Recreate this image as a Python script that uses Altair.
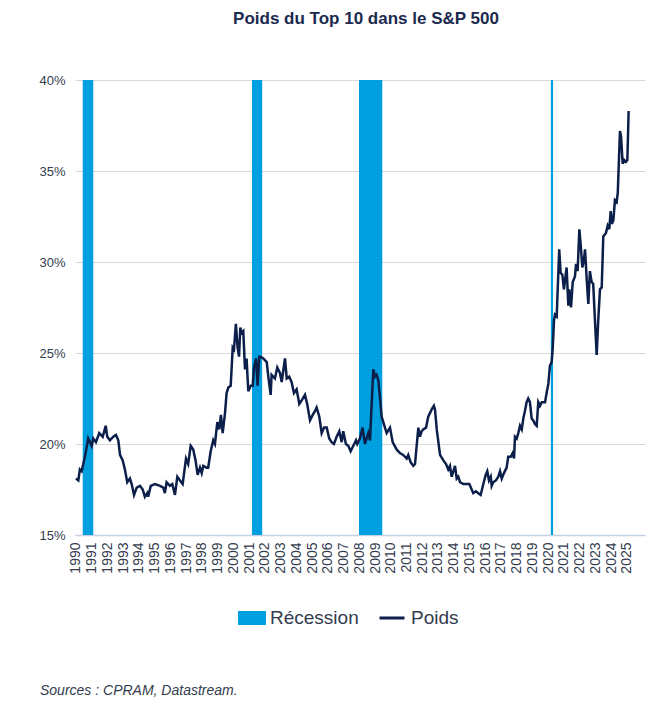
import altair as alt
import pandas as pd

title_text = "Poids du Top 10 dans le S&P 500"
source_text = "Sources : CPRAM, Datastream."
recession_label = "Récession"
line_label = "Poids"
year_ticks = list(range(1990, 2026))
y_ticks = [15, 20, 25, 30, 35, 40]

dates = [
    1990.00, 1990.15, 1990.25, 1990.36, 1990.57, 1990.78, 1991.00, 1991.10, 1991.27, 1991.48,
    1991.70, 1991.89, 1991.99, 1992.16, 1992.37, 1992.54, 1992.69, 1992.80, 1992.97, 1993.11,
    1993.26, 1993.43, 1993.54, 1993.69, 1993.86, 1994.07, 1994.24, 1994.38, 1994.53, 1994.59,
    1994.75, 1995.02, 1995.34, 1995.55, 1995.65, 1995.76, 1995.97, 1996.12, 1996.29, 1996.44,
    1996.61, 1996.78, 1996.99, 1997.13, 1997.29, 1997.45, 1997.60, 1997.73, 1997.88, 1997.99,
    1998.09, 1998.30, 1998.40, 1998.56, 1998.72, 1998.83, 1998.98, 1999.10, 1999.21, 1999.32,
    1999.47, 1999.57, 1999.68, 1999.83, 1999.96, 2000.04, 2000.16, 2000.27, 2000.36, 2000.44,
    2000.53, 2000.63, 2000.74, 2000.84, 2000.95, 2001.10, 2001.23, 2001.31, 2001.44, 2001.54,
    2001.65, 2001.73, 2001.90, 2002.12, 2002.22, 2002.37, 2002.43, 2002.64, 2002.79, 2002.96,
    2003.07, 2003.28, 2003.39, 2003.55, 2003.70, 2003.85, 2004.02, 2004.19, 2004.34, 2004.55,
    2004.69, 2004.87, 2005.04, 2005.18, 2005.29, 2005.46, 2005.61, 2005.76, 2005.93, 2006.09,
    2006.24, 2006.39, 2006.56, 2006.73, 2006.88, 2006.98, 2007.15, 2007.30, 2007.45, 2007.62,
    2007.79, 2007.87, 2008.04, 2008.21, 2008.36, 2008.57, 2008.68, 2008.89, 2009.00, 2009.10,
    2009.21, 2009.31, 2009.42, 2009.63, 2009.74, 2009.95, 2010.12, 2010.37, 2010.58, 2010.79,
    2011.01, 2011.11, 2011.26, 2011.43, 2011.54, 2011.75, 2011.85, 2011.96, 2012.06, 2012.24,
    2012.38, 2012.60, 2012.74, 2012.81, 2012.92, 2013.13, 2013.34, 2013.51, 2013.65, 2013.76,
    2013.87, 2014.08, 2014.19, 2014.29, 2014.40, 2014.61, 2014.82, 2014.99, 2015.14, 2015.24,
    2015.41, 2015.56, 2015.71, 2015.88, 2016.03, 2016.13, 2016.24, 2016.35, 2016.41, 2016.51,
    2016.68, 2016.83, 2016.94, 2017.05, 2017.19, 2017.36, 2017.46, 2017.62, 2017.74, 2017.83,
    2017.89, 2018.00, 2018.10, 2018.21, 2018.32, 2018.42, 2018.52, 2018.63, 2018.73, 2018.84,
    2018.95, 2019.05, 2019.16, 2019.27, 2019.37, 2019.48, 2019.59, 2019.69, 2019.80, 2019.90,
    2020.01, 2020.11, 2020.22, 2020.29, 2020.37, 2020.43, 2020.54, 2020.70, 2020.79, 2020.90,
    2021.00, 2021.17, 2021.28, 2021.34, 2021.45, 2021.56, 2021.70, 2021.77, 2021.87, 2021.98,
    2022.06, 2022.17, 2022.27, 2022.34, 2022.45, 2022.55, 2022.65, 2022.76, 2022.86, 2022.97,
    2023.08, 2023.18, 2023.29, 2023.40, 2023.50, 2023.67, 2023.78, 2023.88, 2023.97, 2024.05,
    2024.14, 2024.24, 2024.35, 2024.42, 2024.56, 2024.63, 2024.73, 2024.83, 2024.94, 2025.03,
    2025.11,
]

poids = [
    18.1, 18.0, 18.6, 18.5, 19.3, 20.3, 19.9, 20.3, 20.1, 20.6,
    20.4, 21.0, 20.4, 20.2, 20.4, 20.5, 20.2, 19.4, 19.1, 18.6,
    17.9, 18.1, 17.8, 17.2, 17.6, 17.7, 17.5, 17.1, 17.3, 17.1,
    17.7, 17.8, 17.7, 17.6, 17.3, 17.9, 17.7, 17.8, 17.2, 18.2,
    18.0, 17.8, 19.2, 18.9, 19.9, 19.7, 19.1, 18.3, 18.7, 18.4,
    18.8, 18.7, 18.7, 19.6, 20.2, 20.0, 21.2, 20.8, 21.6, 20.6,
    21.7, 22.8, 23.1, 23.2, 25.3, 25.2, 26.6, 25.3, 24.8, 26.4,
    26.1, 26.2, 24.1, 24.7, 22.9, 23.2, 23.2, 24.2, 24.7, 23.2,
    24.8, 24.8, 24.7, 24.5, 23.7, 22.7, 23.8, 23.6, 24.2, 23.9,
    23.4, 24.7, 23.6, 23.7, 23.4, 22.8, 23.0, 22.2, 22.4, 22.7,
    22.2, 21.3, 21.6, 21.8, 22.0, 21.5, 20.6, 20.9, 20.9, 20.3,
    20.1, 20.0, 20.4, 20.7, 20.1, 20.7, 20.0, 19.9, 19.6, 19.9,
    20.2, 20.0, 20.3, 20.9, 20.0, 20.6, 20.2, 24.1, 23.7, 23.8,
    23.5, 22.6, 21.5, 20.9, 20.6, 20.9, 20.1, 19.7, 19.5, 19.4,
    19.2, 19.4, 19.0, 18.8, 18.9, 20.9, 20.4, 20.7, 20.8, 20.9,
    21.5, 21.9, 22.1, 21.9, 20.8, 19.4, 19.1, 18.9, 18.6, 18.8,
    18.2, 18.8, 18.1, 18.2, 17.9, 17.8, 17.8, 17.8, 17.5, 17.3,
    17.4, 17.3, 17.2, 17.8, 18.3, 18.5, 18.0, 18.2, 17.7, 17.9,
    18.0, 18.2, 18.5, 18.1, 18.4, 18.7, 19.3, 19.3, 19.5, 19.2,
    20.4, 20.3, 20.6, 21.0, 20.8, 21.4, 21.8, 22.3, 22.5, 22.3,
    21.4, 21.3, 21.1, 21.0, 22.3, 22.1, 22.3, 22.3, 22.3, 22.8,
    23.3, 24.3, 24.5, 25.3, 26.8, 27.1, 27.0, 30.7, 29.4, 29.3,
    28.5, 29.7, 27.6, 28.5, 27.5, 28.9, 29.2, 29.9, 29.5, 31.8,
    31.0, 29.7, 30.1, 30.7, 29.0, 27.7, 29.5, 28.9, 28.8, 26.8,
    24.9, 26.8, 28.5, 28.6, 31.4, 31.6, 32.0, 31.8, 32.8, 32.1,
    32.3, 33.4, 33.3, 33.8, 37.2, 36.9, 35.4, 35.6, 35.5, 35.6,
    38.3,
]

rec_start = [1990.43, 2001.18, 2007.98, 2020.17]
rec_end = [1991.10, 2001.83, 2009.46, 2020.31]

navy = "#0C1F4A"
blue = "#009FDF"
text_col = "#333C4E"
font = "Liberation Sans"

line_df = pd.DataFrame({"t": dates, "v": poids, "serie": [line_label] * len(dates)})
rec_df = pd.DataFrame({"start": rec_start, "end": rec_end, "lab": [recession_label] * len(rec_start)})
src_df = pd.DataFrame({"txt": [source_text]})

x_scale = alt.Scale(domain=[1989.94, 2026.15], nice=False, zero=False)
y_scale = alt.Scale(domain=[15, 40], nice=False, zero=False)

x_axis = alt.Axis(
    values=year_ticks, format="d", labelAngle=270, labelFontSize=14, labelFont=font,
    labelColor=text_col, labelPadding=7, labelOverlap=False, labelFlush=False,
    ticks=False, grid=False, domainColor="#C3D0E4", domainWidth=1.5,
)
y_axis = alt.Axis(
    values=y_ticks, labelExpr="datum.value + '%'", labelFontSize=13, labelFont=font,
    labelColor=text_col, labelPadding=10, ticks=False, domain=False, grid=True,
    gridColor="#D9D9D9", gridWidth=1,
)

rec = alt.Chart(rec_df).mark_rect().encode(
    x=alt.X("start:Q", scale=x_scale, axis=x_axis, title=None),
    x2="end:Q",
    y=alt.YDatum(15, scale=y_scale, axis=y_axis, title=None),
    y2=alt.Y2Datum(40),
    color=alt.Color(
        "lab:N",
        scale=alt.Scale(domain=[recession_label], range=[blue]),
        legend=alt.Legend(
            orient="none", legendX=163, legendY=524, direction="horizontal",
            symbolType="M-1,-0.5H1V0.5H-1Z", symbolSize=784, symbolStrokeWidth=0,
            labelFontSize=19, labelFont=font, labelColor=text_col, labelOffset=4,
            padding=0,
        ),
        title=None,
    ),
)

line = alt.Chart(line_df).mark_line(strokeWidth=2.5).encode(
    x=alt.X("t:Q", scale=x_scale, axis=x_axis, title=None),
    y=alt.Y("v:Q", scale=y_scale, axis=y_axis, title=None),
    stroke=alt.Stroke(
        "serie:N",
        scale=alt.Scale(domain=[line_label], range=[navy]),
        legend=alt.Legend(
            orient="none", legendX=303, legendY=524, direction="horizontal",
            symbolType="stroke", symbolSize=625, symbolStrokeWidth=3,
            labelFontSize=19, labelFont=font, labelColor=text_col, labelOffset=5,
            padding=0,
        ),
        title=None,
    ),
)

src = alt.Chart(src_df).mark_text(
    align="left", baseline="alphabetic", fontSize=14, fontStyle="italic",
    font=font, color=text_col,
).encode(text="txt:N", x=alt.value(-35), y=alt.value(615))

chart = alt.layer(rec, line, src).properties(
    width=570,
    height=455,
    padding={"left": 67, "top": 72, "right": 10, "bottom": 175},
    autosize=alt.AutoSizeParams(type="none"),
    title=alt.TitleParams(
        text=title_text, fontSize=17, font=font, fontWeight="bold", color="#1B2A4E",
        anchor="middle", frame="group", offset=33, baseline="alphabetic", dx=6,
    ),
).configure_view(stroke=None)

chart.save("out.html", embed_options={"renderer": "svg", "actions": False})
